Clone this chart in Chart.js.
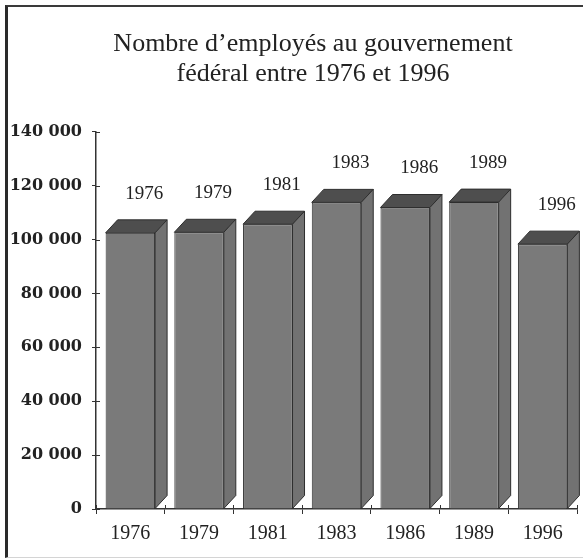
<!DOCTYPE html>
<html>
<head>
<meta charset="utf-8">
<script src="https://cdn.jsdelivr.net/npm/chart.js@4.4.0/dist/chart.umd.min.js"></script>
<style>
	body { margin: 0; background: #fff; }
	#cadre { position: relative; width: 583px; height: 560px; }
	#cadre canvas { display: block; }
	#bord { position: absolute; left: 5px; top: 5px; right: 0; bottom: 2px; border-left: 3px solid #2a2a2a; border-top: 2px solid #3a3a3a; border-bottom: 1px solid #d4d4d4; pointer-events: none; }
</style>
</head>
<body>
<div id="cadre">
	<canvas id="myChart" width="583" height="560"></canvas>
	<div id="bord"></div>
</div>
<script>
// # ===============================
// # = Données
// # ===============================
var annees = ['1976', '1979', '1981', '1983', '1986', '1989', '1996'];
var employes = [102500, 102700, 105700, 113800, 111900, 113900, 98300];
var graduations = ['0', '20 000', '40 000', '60 000', '80 000', '100 000', '120 000', '140 000'];

var serif = '"Liberation Serif", "Times New Roman", serif';

// # ===============================
// # = Effet 3D + étiquettes au-dessus des barres
// # ===============================
var relief = {
	id: 'relief',
	afterDatasetsDraw: function(chart) {
		var ctx = chart.ctx;
		var dx = 12, dy = 13;
		chart.getDatasetMeta(0).data.forEach(function(bar, i) {
			var g = bar.x - bar.width / 2;
			var d = bar.x + bar.width / 2;
			ctx.save();
			ctx.strokeStyle = '#2e2e2e';
			ctx.lineWidth = 1;
			// dessus
			ctx.beginPath();
			ctx.moveTo(g, bar.y);
			ctx.lineTo(g + dx, bar.y - dy);
			ctx.lineTo(d + dx, bar.y - dy);
			ctx.lineTo(d, bar.y);
			ctx.closePath();
			ctx.fillStyle = '#4e4e4e';
			ctx.fill();
			ctx.stroke();
			// côté
			ctx.beginPath();
			ctx.moveTo(d, bar.y);
			ctx.lineTo(d + dx, bar.y - dy);
			ctx.lineTo(d + dx, bar.base - dy);
			ctx.lineTo(d, bar.base);
			ctx.closePath();
			ctx.fillStyle = '#727272';
			ctx.fill();
			ctx.stroke();
			// étiquette
			ctx.fillStyle = '#222';
			ctx.font = '19px ' + serif;
			ctx.textAlign = 'center';
			ctx.textBaseline = 'middle';
			ctx.fillText(annees[i], bar.x + 14, bar.y - 39);
			ctx.restore();
		});
	}
};

// petites graduations qui traversent les axes
var croix = {
	id: 'croix',
	afterLayout: function(chart) {
		// titre centré un peu à droite, comme sur l'original
		chart.titleBlock.left = 49;
	},
	afterDraw: function(chart) {
		var ctx = chart.ctx;
		var sy = chart.scales.y, sx = chart.scales.x;
		ctx.save();
		ctx.strokeStyle = '#333';
		ctx.lineWidth = 1;
		sy.ticks.forEach(function(t, i) {
			var py = Math.round(sy.getPixelForTick(i)) + 0.5;
			ctx.beginPath();
			ctx.moveTo(sy.right, py);
			ctx.lineTo(sy.right + 4, py);
			ctx.stroke();
		});
		var pas = sx.getPixelForValue(1) - sx.getPixelForValue(0);
		for (var i = 0; i <= annees.length; i++) {
			var px = Math.round(sx.getPixelForValue(i) - pas / 2) + 0.5;
			ctx.beginPath();
			ctx.moveTo(px, sx.top - 4);
			ctx.lineTo(px, sx.top);
			ctx.stroke();
		}
		ctx.restore();
	}
};

const ctx = document.getElementById('myChart');

new Chart(ctx, {
	type: 'bar',
	data: {
		labels: annees,
		datasets: [{
			data: employes,
			backgroundColor: '#7a7a7a',
			borderColor: '#2e2e2e',
			borderWidth: 1,
			barPercentage: 0.72,
			categoryPercentage: 1
		}]
	},
	options: {
		responsive: false,
		animation: false,
		layout: {
			padding: { left: 0, right: 6, top: 0, bottom: 6 }
		},
		plugins: {
			legend: { display: false },
			tooltip: { enabled: false },
			title: {
				display: true,
				text: ['Nombre d\u2019employés au gouvernement', 'fédéral entre 1976 et 1996'],
				color: '#222',
				font: { family: serif, size: 26, weight: 'normal', lineHeight: 1.15 },
				padding: { top: 29, bottom: 43 }
			}
		},
		scales: {
			x: {
				offset: true,
				grid: { display: true, drawOnChartArea: false, offset: true, tickLength: 5, color: '#333' },
				border: { display: true, color: '#333', width: 1.5 },
				ticks: {
					color: '#222',
					padding: 8,
					font: { family: serif, size: 20 }
				}
			},
			y: {
				min: 0,
				max: 140000,
				afterFit: function(s) { s.width = 96; },
				grid: { display: true, drawOnChartArea: false, tickLength: 4, color: '#333' },
				border: { display: true, color: '#333', width: 1.5 },
				ticks: {
					stepSize: 20000,
					color: '#222',
					padding: 10,
					font: { family: '"DejaVu Serif", serif', size: 16, weight: 'bold' },
					callback: function(v, i) { return graduations[i]; }
				}
			}
		}
	},
	plugins: [relief, croix]
});
</script>
</body>
</html>
